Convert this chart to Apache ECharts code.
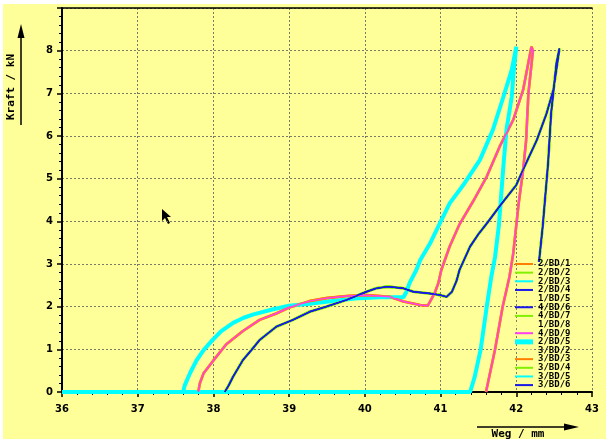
<!DOCTYPE html>
<html><head><meta charset="utf-8">
<script src="https://cdn.jsdelivr.net/npm/echarts@6/dist/echarts.min.js"></script>
<style>
html,body{margin:0;padding:0;background:#fff;}
#c{width:606px;height:439px;background:linear-gradient(#fff,#fff) 0 0/100% 4px no-repeat, linear-gradient(#fff,#fff) 0 0/3px 100% no-repeat, #FFFF99;}
</style></head><body><div id="c"></div>
<script>
// ---- data (Weg / mm , Kraft / kN) ----
const xTicks = [36, 37, 38, 39, 40, 41, 42, 43];
const yTicks = [0, 1, 2, 3, 4, 5, 6, 7, 8];

const groupA_x = [36, 37.6, 37.62, 37.69, 37.78, 37.87, 37.99, 38.1, 38.26, 38.4, 38.53, 38.79, 39.0, 39.27, 39.6, 39.93, 40.2, 40.51, 40.55, 40.59, 40.68, 40.73, 40.86, 40.99, 41.12, 41.3, 41.52, 41.69, 41.83, 41.94, 42.0, 41.97, 41.94, 41.87, 41.83, 41.8, 41.77, 41.72, 41.67, 41.61, 41.53, 41.45, 41.39, 37.6];
const groupA_y = [0, 0, 0.15, 0.44, 0.75, 0.98, 1.22, 1.42, 1.62, 1.74, 1.82, 1.94, 2.02, 2.07, 2.14, 2.2, 2.22, 2.22, 2.35, 2.55, 2.86, 3.09, 3.48, 3.95, 4.42, 4.85, 5.44, 6.14, 6.92, 7.55, 8.09, 7.6, 6.92, 6.14, 5.3, 4.6, 3.9, 3.17, 2.7, 2.0, 1.0, 0.35, 0, 0];

const groupB_x = [37.8, 37.82, 37.87, 38.0, 38.17, 38.39, 38.61, 38.83, 39.0, 39.27, 39.49, 39.76, 40.02, 40.33, 40.51, 40.73, 40.83, 40.92, 40.97, 41.01, 41.12, 41.25, 41.43, 41.61, 41.78, 41.96, 42.09, 42.2, 42.22, 42.16, 42.13, 42.09, 42.03, 41.96, 41.91, 41.82, 41.72, 41.6];
const groupB_y = [0, 0.2, 0.44, 0.74, 1.12, 1.43, 1.69, 1.84, 1.98, 2.13, 2.2, 2.25, 2.27, 2.23, 2.12, 2.04, 2.02, 2.31, 2.55, 2.86, 3.41, 3.93, 4.47, 5.05, 5.75, 6.38, 7.08, 8.09, 8.0, 7.0, 5.9, 5.2, 4.4, 3.25, 2.7, 2.0, 1.0, 0];

const groupC_x = [38.15, 38.2, 38.26, 38.39, 38.5, 38.61, 38.83, 39.05, 39.27, 39.49, 39.76, 40.02, 40.15, 40.3, 40.51, 40.64, 40.86, 41.0, 41.08, 41.15, 41.21, 41.25, 41.39, 41.5, 41.61, 41.8, 42.0, 42.1, 42.27, 42.4, 42.49, 42.57, 42.53, 42.46, 42.42, 42.35, 42.3];
const groupC_y = [0, 0.15, 0.36, 0.75, 0.98, 1.22, 1.53, 1.69, 1.88, 2.0, 2.16, 2.35, 2.43, 2.47, 2.43, 2.35, 2.31, 2.27, 2.23, 2.35, 2.6, 2.86, 3.41, 3.7, 3.95, 4.4, 4.85, 5.25, 5.9, 6.53, 7.08, 8.05, 7.7, 6.53, 5.36, 3.9, 3.05];

const seriesNames = ['2/BD/1', '2/BD/2', '2/BD/3', '2/BD/4', '1/BD/5', '4/BD/6', '4/BD/7', '1/BD/8', '4/BD/9', '2/BD/5', '3/BD/2', '3/BD/3', '3/BD/4', '3/BD/5', '3/BD/6'];
const seriesGroup = ['B', 'C', 'A', 'C', '', 'C', 'C', '', 'B', 'A', '', 'B', 'C', 'A', 'C'];

// ---- styles ----
const seriesColors = ['#FF8000', '#80F000', '#00FFFF', '#1818E8', '#FFFF99', '#1818E8', '#80F000', '#FFFF99', '#FF40F0', '#00FFFF', '#FFFF99', '#FF8000', '#80F000', '#00FFFF', '#1818E8'];
const seriesWidths = [2.6, 2.6, 1.5, 1.4, 1, 1.4, 2.6, 1, 1.5, 4, 1, 2.6, 2.6, 1.5, 1.4];
const seriesZ = [2, 2, 2, 3, 2, 3, 2, 2, 3, 2, 2, 2, 2, 2, 3];

const groups = {
  A: groupA_x.map((x, i) => [x, groupA_y[i]]),
  B: groupB_x.map((x, i) => [x, groupB_y[i]]),
  C: groupC_x.map((x, i) => [x, groupC_y[i]])
};

const thin = 'path://M0,0H18V2H0Z';
const thick = 'path://M0,0H18V5H0Z';

const series = seriesNames.map((name, i) => ({
  name: name,
  type: 'line',
  data: seriesGroup[i] ? groups[seriesGroup[i]] : [],
  xAxisIndex: 0,
  showSymbol: false,
  symbol: 'none',
  z: seriesZ[i],
  color: seriesColors[i],
  lineStyle: { color: seriesColors[i], width: seriesWidths[i] },
  animation: false,
  silent: true
}));

const chart = echarts.init(document.getElementById('c'), null, { renderer: 'canvas' });
const labelFont = { color: '#000', fontSize: 10, fontWeight: 'bold', fontFamily: 'DejaVu Sans' };

chart.setOption({
  backgroundColor: 'transparent',
  animation: false,
  grid: { left: 62, right: 14, top: 8, bottom: 47 },
  legend: {
    orient: 'vertical',
    left: 515, top: 259.5,
    padding: 0,
    itemGap: -0.35,
    itemWidth: 18, itemHeight: 8,
    selectedMode: false,
    textStyle: { color: '#000', fontSize: 9, fontWeight: 'bold', fontFamily: 'DejaVu Sans Mono' },
    data: seriesNames.map((n, i) => ({ name: n, icon: n === '2/BD/5' ? thick : thin }))
  },
  xAxis: [{
    type: 'value', min: xTicks[0], max: xTicks[xTicks.length - 1], interval: 1,
    position: 'bottom',
    axisLine: { show: true, onZero: false, lineStyle: { color: '#000', width: 2 } },
    axisTick: { show: true, length: 5, lineStyle: { color: '#000', width: 1.5 } },
    minorTick: { show: true, splitNumber: 5, length: 3, lineStyle: { color: '#000' } },
    axisLabel: Object.assign({ margin: 12 }, labelFont),
    splitLine: { show: true, lineStyle: { color: '#7a7a6a', width: 1, type: [2, 2] } }
  }, {
    type: 'value', min: xTicks[0], max: xTicks[xTicks.length - 1], position: 'top',
    axisLine: { show: true, onZero: false, lineStyle: { color: '#000', width: 1.5 } },
    axisTick: { show: false }, axisLabel: { show: false }, splitLine: { show: false }
  }],
  yAxis: {
    type: 'value', min: 0, max: 9, interval: 1,
    axisLine: { show: true, lineStyle: { color: '#000', width: 2 } },
    axisTick: { show: true, length: 5, lineStyle: { color: '#000', width: 1.5 } },
    minorTick: { show: true, splitNumber: 5, length: 3, lineStyle: { color: '#000' } },
    axisLabel: Object.assign({ margin: 9, formatter: v => (yTicks.indexOf(v) >= 0 ? String(v) : '') }, labelFont),
    splitLine: { show: true, lineStyle: { color: '#7a7a6a', width: 1, type: [2, 2] } }
  },
  graphic: [
    { type: 'text', x: 11, y: 87, rotation: Math.PI / 2,
      style: { text: 'Kraft / kN', fill: '#000', font: 'bold 11px "DejaVu Sans Mono"', textAlign: 'center', textVerticalAlign: 'middle' } },
    { type: 'line', shape: { x1: 21, y1: 125, x2: 21, y2: 34 }, style: { stroke: '#000', lineWidth: 1.5 } },
    { type: 'polygon', shape: { points: [[21, 24], [17.5, 38], [24.5, 38]] }, style: { fill: '#000' } },
    { type: 'text', x: 518, y: 434, style: { text: 'Weg / mm', fill: '#000', font: 'bold 11px "DejaVu Sans Mono"', textAlign: 'center', textVerticalAlign: 'middle' } },
    { type: 'line', shape: { x1: 477, y1: 427, x2: 566, y2: 427 }, style: { stroke: '#000', lineWidth: 1.5 } },
    { type: 'polygon', shape: { points: [[579, 427], [564, 423.5], [564, 430.5]] }, style: { fill: '#000' } },
    { type: 'polygon', shape: { points: [[162, 209], [162, 221], [165, 218], [168, 224], [170, 223], [167, 217], [171, 217]] }, style: { fill: '#000' } }
  ],
  series: series
});
</script></body></html>
